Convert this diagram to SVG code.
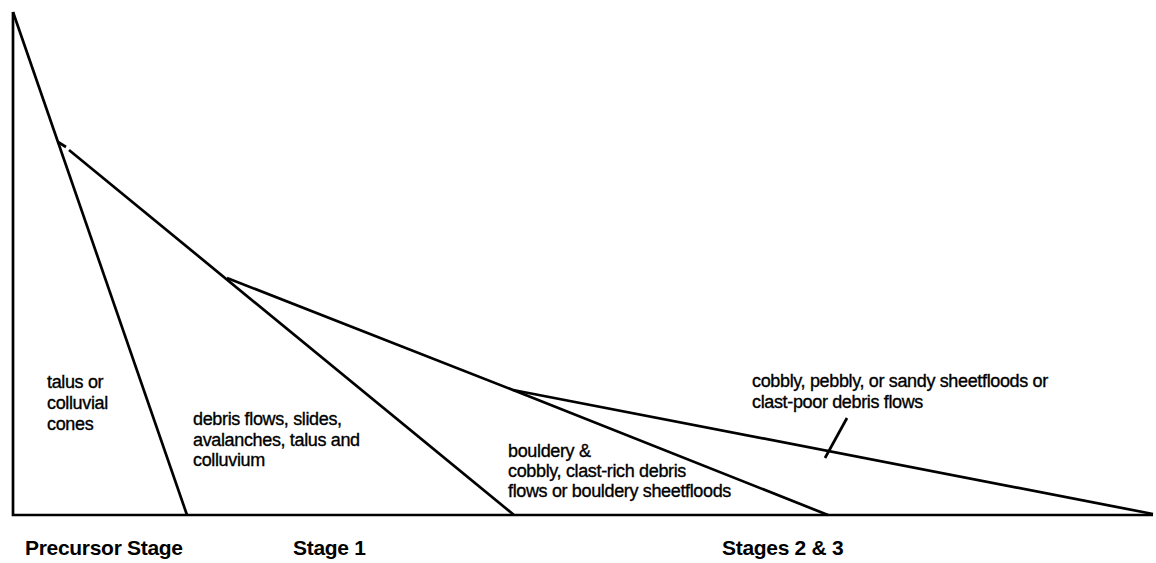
<svg xmlns="http://www.w3.org/2000/svg" width="1156" height="563" viewBox="0 0 1156 563">
<style>
.ln{fill:none;stroke:#000;stroke-width:2.7;stroke-linejoin:miter;stroke-linecap:butt}
.lbl{font-family:"Liberation Sans",Arial,sans-serif;font-size:18px;letter-spacing:-0.35px;fill:#000;stroke:#000;stroke-width:0.35}
.stg{font-family:"Liberation Sans",Arial,sans-serif;font-size:21px;font-weight:bold;letter-spacing:-0.3px;fill:#000}
</style>
<rect width="1156" height="563" fill="#fff"/>
<g id="connectors">
<polyline class="ln" points="13,12 13,515 1153,515"/>
<line class="ln" x1="13" y1="12" x2="187" y2="515"/>
<line class="ln" x1="58" y1="142" x2="66" y2="147"/>
<line class="ln" x1="69" y1="150" x2="514" y2="515"/>
<polyline class="ln" points="227,278 513,390 828,515"/>
<line class="ln" x1="513" y1="390" x2="1153" y2="514"/>
<line class="ln" x1="847" y1="418" x2="825" y2="458"/>
</g>
<g id="talus">
<text class="lbl" x="47" y="388">talus or</text>
<text class="lbl" x="47" y="409">colluvial</text>
<text class="lbl" x="47" y="430">cones</text>
</g>
<g id="debris">
<text class="lbl" x="193" y="425">debris flows, slides,</text>
<text class="lbl" x="193" y="446">avalanches, talus and</text>
<text class="lbl" x="193" y="466">colluvium</text>
</g>
<g id="bouldery">
<text class="lbl" x="508" y="457">bouldery &amp;</text>
<text class="lbl" x="508" y="477">cobbly, clast-rich debris</text>
<text class="lbl" x="508" y="497">flows or bouldery sheetfloods</text>
</g>
<g id="cobbly">
<text class="lbl" x="752" y="387">cobbly, pebbly, or sandy sheetfloods or</text>
<text class="lbl" x="752" y="408">clast-poor debris flows</text>
</g>
<g id="stages">
<text class="stg" x="25" y="555">Precursor Stage</text>
<text class="stg" x="293" y="555">Stage 1</text>
<text class="stg" x="722" y="555">Stages 2 &amp; 3</text>
</g>
</svg>
